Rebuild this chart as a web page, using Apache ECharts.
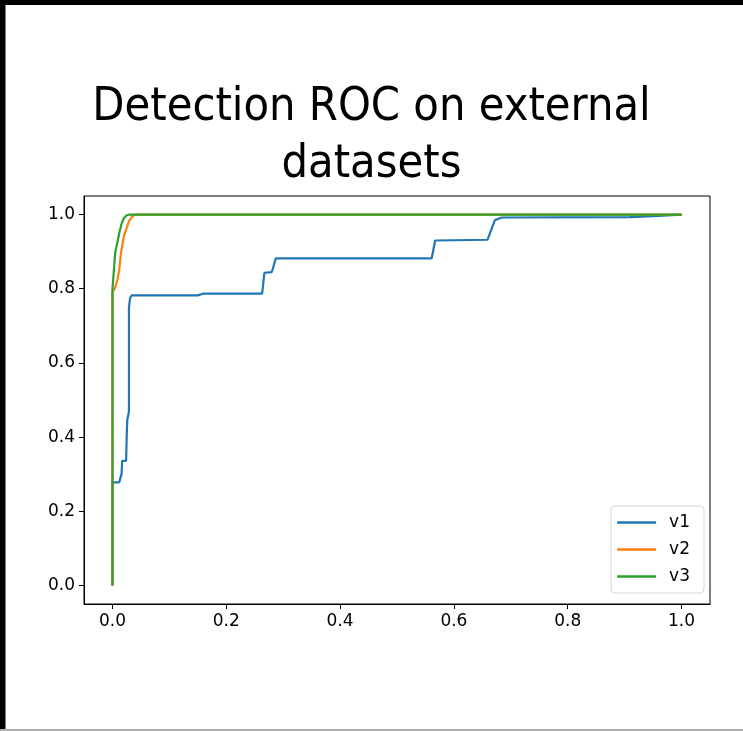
<!DOCTYPE html>
<html>
<head>
<meta charset="utf-8">
<script src="https://cdn.jsdelivr.net/npm/echarts@6/dist/echarts.min.js"></script>
<style>
html,body{margin:0;padding:0;background:#fff;}
#chart{width:743px;height:731px;}
</style>
</head>
<body>
<div id="chart"></div>
<script>
const titleText = 'Detection ROC on external\ndatasets';
const seriesNames = ['v1', 'v2', 'v3'];
const tickValues = [0.0, 0.2, 0.4, 0.6, 0.8, 1.0];

const v1 = [
  [0,0],[0,0.278],[0.003,0.278],[0.012,0.278],[0.014,0.29],[0.016,0.30],[0.017,0.336],
  [0.024,0.336],[0.025,0.40],[0.026,0.447],[0.028,0.46],[0.029,0.47],[0.029,0.75],
  [0.031,0.775],[0.034,0.782],[0.15,0.782],[0.16,0.787],[0.263,0.787],[0.267,0.843],
  [0.28,0.845],[0.282,0.855],[0.287,0.882],[0.561,0.882],[0.567,0.93],[0.659,0.932],
  [0.667,0.965],[0.672,0.985],[0.684,0.992],[0.909,0.993],[0.95,0.996],[1,1]
];
const v2 = [
  [0,0],[0,0.79],[0.004,0.80],[0.009,0.825],[0.012,0.852],[0.015,0.897],
  [0.02,0.941],[0.029,0.982],[0.035,0.995],[0.041,1.0],[1,1]
];
const v3 = [
  [0,0],[0,0.27],[0,0.8],[0.001,0.82],[0.003,0.86],[0.005,0.9],[0.008,0.92],
  [0.012,0.95],[0.016,0.975],[0.02,0.99],[0.025,0.998],[0.03,1.0],[1,1]
];
const colors = ['#1f77b4', '#ff7f0e', '#2ca02c'];

const chart = echarts.init(document.getElementById('chart'), null, {renderer: 'canvas'});
const tickFmt = v => v.toFixed(1);
const font = 'DejaVu Sans';

chart.setOption({
  animation: false,
  backgroundColor: '#fff',
  title: {
    text: titleText,
    left: 'center',
    top: 74,
    textStyle: {
      fontFamily: 'DejaVu Sans Condensed',
      fontSize: 46.5,
      fontWeight: 'normal',
      color: '#000',
      lineHeight: 57
    }
  },
  graphic: [
    {type: 'rect', shape: {x: 0, y: 0, width: 743, height: 5}, style: {fill: '#000'}, silent: true},
    {type: 'rect', shape: {x: 0, y: 0, width: 5.5, height: 731}, style: {fill: '#000'}, silent: true},
    {type: 'rect', shape: {x: 0, y: 729, width: 743, height: 2}, style: {fill: '#b0b0b0'}, silent: true}
  ],
  legend: {
    data: seriesNames,
    orient: 'vertical',
    right: 39,
    bottom: 138,
    icon: 'rect',
    itemWidth: 39,
    itemHeight: 2.5,
    itemGap: 10,
    padding: [8, 14, 8, 6],
    backgroundColor: '#fff',
    borderColor: '#d6d6d6',
    borderWidth: 1,
    borderRadius: 4,
    textStyle: {fontFamily: font, fontSize: 17, color: '#000', padding: [0, 0, 0, 8]}
  },
  grid: {
    left: 84, right: 33, top: 196, bottom: 127,
    show: true, borderColor: '#000', borderWidth: 1, containLabel: false
  },
  xAxis: {
    type: 'value', min: -0.05, max: 1.05,
    splitLine: {show: false},
    axisLine: {show: true, onZero: false, lineStyle: {color: '#000', width: 1}},
    axisTick: {show: true, length: 5, customValues: tickValues, lineStyle: {color: '#000'}},
    axisLabel: {customValues: tickValues, formatter: tickFmt, fontFamily: font, fontSize: 17, color: '#000', margin: 9}
  },
  yAxis: {
    type: 'value', min: -0.05, max: 1.05,
    splitLine: {show: false},
    axisLine: {show: true, onZero: false, lineStyle: {color: '#000', width: 1}},
    axisTick: {show: true, length: 5, customValues: tickValues, lineStyle: {color: '#000'}},
    axisLabel: {customValues: tickValues, formatter: tickFmt, fontFamily: font, fontSize: 17, color: '#000', margin: 9}
  },
  series: [
    {name: 'v1', type: 'line', data: v1, showSymbol: false, color: colors[0], lineStyle: {width: 2.2}},
    {name: 'v2', type: 'line', data: v2, showSymbol: false, color: colors[1], lineStyle: {width: 2.2}},
    {name: 'v3', type: 'line', data: v3, showSymbol: false, color: colors[2], lineStyle: {width: 2.2}}
  ]
});
</script>
</body>
</html>
